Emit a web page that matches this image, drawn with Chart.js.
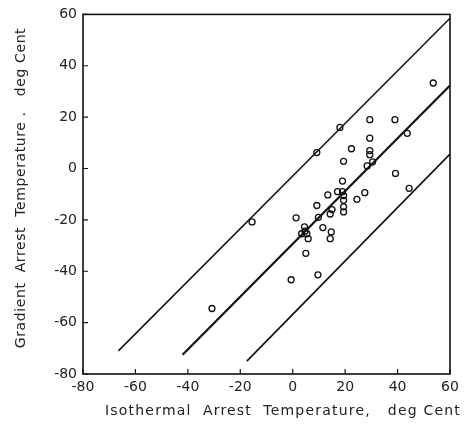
<!DOCTYPE html>
<html>
<head>
<meta charset="utf-8">
<script src="https://cdn.jsdelivr.net/npm/chart.js@4/dist/chart.umd.min.js"></script>
<style>
  html, body { margin: 0; padding: 0; background: #fff; }
  #wrap { width: 466px; height: 428px; }
</style>
</head>
<body>
<div id="wrap"><canvas id="c"></canvas></div>
<script>
// isothermal (x) vs gradient (y) arrest temperatures, deg C
var ISO_X = [53.6, 29.4, 39, 43.7, 18, 29.4, 22.4, 29.4, 29.4, 30.5, 28.4, 19.4, 9.2, 39.2, 44.4,
  19, 27.5, 17.1, 19, 19.4, 13.4, 19.4, 24.5, 19.4, 19.4, 9.2, 15, 14.3, 1.3, 9.8,
  -15.5, 4.5, 11.5, 14.7, 4.7, 3.4, 5.4, 5.9, 14.3, 5, -0.6, 9.6, -30.8];
var GRAD_Y = [33.3, 19, 19, 13.7, 16, 11.8, 7.7, 7, 5.4, 2.6, 1, 2.8, 6.2, -1.9, -7.7,
  -4.9, -9.4, -9, -9, -10.5, -10.3, -12.4, -12, -14.9, -16.9, -14.4, -16, -17.7, -19.2, -19,
  -20.8, -22.7, -23, -24.7, -24.4, -25.4, -25.4, -27.3, -27.3, -33, -43.3, -41.4, -54.5];

// the three straight lines (mean and scatter band), end points
var UPPER_X = [-66.5, 60], UPPER_Y = [-71, 58.5];
var MID_X = [-42, 60], MID_Y = [-72.5, 32.3];
var LOWER_X = [-17.5, 60], LOWER_Y = [-75, 5.6];

var X_TICKS = [-80, -60, -40, -20, 0, 20, 40, 60];
var Y_TICKS = [-80, -60, -40, -20, 0, 20, 40, 60];

function pts(xs, ys) {
  return xs.map(function (x, i) { return { x: x, y: ys[i] }; });
}

function lineSet(xs, ys, w) {
  return { type: 'line', data: pts(xs, ys), borderColor: '#111', borderWidth: w,
    pointRadius: 0, fill: false, tension: 0 };
}

var FONT = 'DejaVu Sans, sans-serif';

// frame, inward tick marks and the axis titles
var frame = {
  id: 'frame',
  afterDraw: function (chart) {
    var ctx = chart.ctx, a = chart.chartArea;
    var sx = chart.scales.x, sy = chart.scales.y;
    ctx.save();
    ctx.strokeStyle = '#111';
    ctx.lineWidth = 1.6;
    ctx.strokeRect(a.left, a.top, a.right - a.left, a.bottom - a.top);
    ctx.lineWidth = 1.2;
    ctx.beginPath();
    X_TICKS.forEach(function (t) {
      var px = sx.getPixelForValue(t);
      ctx.moveTo(px, a.bottom); ctx.lineTo(px, a.bottom - 5);
    });
    Y_TICKS.forEach(function (t) {
      var py = sy.getPixelForValue(t);
      ctx.moveTo(a.left, py); ctx.lineTo(a.left + 5, py);
    });
    ctx.stroke();

    ctx.fillStyle = '#222';
    ctx.font = '14px ' + FONT;
    ctx.textAlign = 'center';
    ctx.textBaseline = 'middle';
    ctx.letterSpacing = '1.2px';
    ctx.fillText('Isothermal  Arrest  Temperature,   deg Cent', 283, 411);
    ctx.letterSpacing = '0.6px';
    ctx.translate(21, 188);
    ctx.rotate(-Math.PI / 2);
    ctx.fillText('Gradient  Arrest  Temperature .   deg Cent', 0, 0);
    ctx.restore();
  }
};

new Chart(document.getElementById('c'), {
  type: 'scatter',
  data: {
    datasets: [
      { data: pts(ISO_X, GRAD_Y), pointStyle: 'circle', pointRadius: 3,
        backgroundColor: 'rgba(255,255,255,0)', borderColor: '#111', borderWidth: 1.3 },
      lineSet(UPPER_X, UPPER_Y, 1.5),
      lineSet(MID_X, MID_Y, 2.2),
      lineSet(LOWER_X, LOWER_Y, 1.7)
    ]
  },
  options: {
    responsive: true, maintainAspectRatio: false, animation: false,
    layout: { padding: { top: 10, right: 16, left: 0, bottom: 0 } },
    plugins: { legend: { display: false }, tooltip: { enabled: false } },
    scales: {
      x: {
        type: 'linear', min: -80, max: 60,
        afterBuildTicks: function (s) { s.ticks = X_TICKS.map(function (v) { return { value: v }; }); },
        afterFit: function (s) { s.height = 54; },
        grid: { display: false, drawTicks: false },
        border: { display: false },
        ticks: { color: '#222', padding: 5, maxRotation: 0, font: { family: FONT, size: 14 } }
      },
      y: {
        type: 'linear', min: -80, max: 60,
        afterBuildTicks: function (s) { s.ticks = Y_TICKS.map(function (v) { return { value: v }; }); },
        afterFit: function (s) { s.width = 83; },
        grid: { display: false, drawTicks: false },
        border: { display: false },
        ticks: { color: '#222', padding: 6, font: { family: FONT, size: 14 } }
      }
    }
  },
  plugins: [frame]
});
</script>
</body>
</html>
